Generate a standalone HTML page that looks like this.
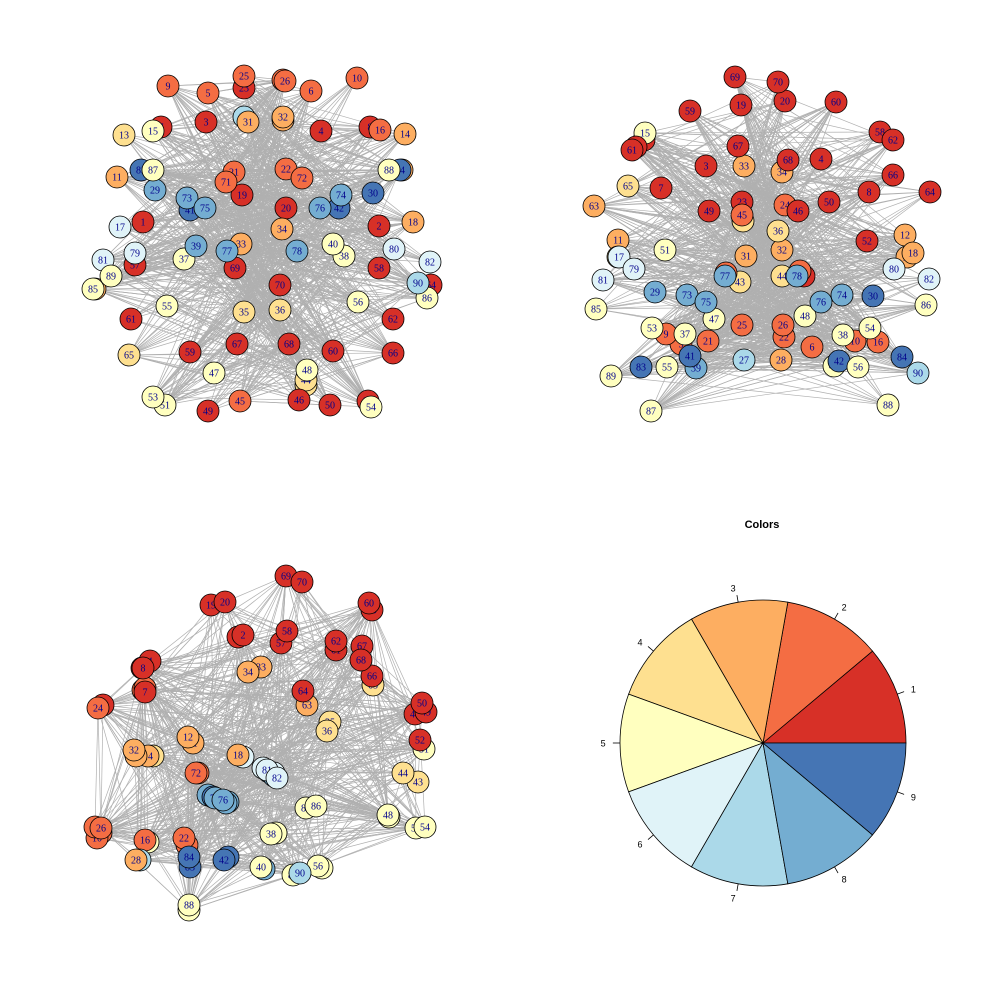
<!DOCTYPE html>
<html><head><meta charset="utf-8"><style>
html,body{margin:0;padding:0;background:#fff;}
svg{display:block;}
</style></head><body>
<svg id="chart" width="1000" height="1000" viewBox="0 0 1000 1000" xmlns="http://www.w3.org/2000/svg">
<rect width="1000" height="1000" fill="#fff"/>
<g id="g1"></g>
<g id="g2"></g>
<g id="g3"></g>
<g id="pie"></g>
<text x="762" y="528" text-anchor="middle" font-family="Liberation Sans, sans-serif" font-size="11" font-weight="bold">Colors</text>
</svg>
<script>
const palette = ["#D73027","#F46D43","#FDAE61","#FEE090","#FFFFBF","#E0F3F8","#ABD9E9","#74ADD1","#4575B4"];
const pieLabels = ["1","2","3","4","5","6","7","8","9"];
const pieValues = [1,1,1,1,1,1,1,1,1];
const nodeGroup = [0,0,0,0,1,1,0,0,1,1, 2,2,3,2,4,1,5,2,0,0, 1,1,0,1,1,1,6,2,7,8, 2,2,2,2,3,3,4,4,7,4, 8,8,3,3,1,0,4,4,0,0, 4,0,4,4,4,4,0,0,0,0, 0,0,2,0,3,0,0,0,0,0, 1,1,7,7,7,7,7,7,5,5, 5,5,8,8,4,4,4,4,4,6];
const pos1 = [[143,222],[379,226],[206,122],[321,131],[208,93],[311,91],[161,127],[370,127],[168,86],[357,78],[117,177],[402,170],[124,135],[405,134],[153,131],[380,130],[120,227],[413,222],[242,195],[286,208],[234,172],[286,169],[244,88],[283,80],[244,76],[285,81],[244,117],[283,120],[155,190],[373,193],[248,122],[283,117],[241,244],[282,229],[244,312],[280,310],[184,259],[344,256],[196,246],[333,244],[190,210],[339,208],[306,385],[306,380],[240,401],[299,400],[214,373],[307,370],[208,411],[330,405],[165,405],[368,401],[153,397],[371,407],[167,306],[358,302],[135,265],[379,268],[190,352],[333,351],[131,319],[393,319],[95,289],[431,285],[129,355],[393,353],[237,344],[289,344],[235,268],[280,285],[226,182],[302,178],[187,198],[341,195],[205,208],[320,208],[227,251],[297,251],[135,253],[394,249],[103,260],[430,262],[141,170],[400,170],[93,289],[427,298],[153,170],[389,170],[111,276],[418,283]];
const pos2 = [[644,140],[804,276],[706,166],[821,159],[681,344],[812,347],[661,188],[869,192],[666,334],[855,341],[618,240],[905,235],[618,257],[907,257],[645,133],[878,342],[619,257],[913,253],[741,105],[785,101],[708,341],[784,337],[742,202],[785,205],[742,325],[783,325],[744,360],[781,360],[655,292],[873,296],[746,256],[782,250],[744,166],[782,172],[743,221],[778,231],[685,334],[843,335],[696,368],[834,366],[690,356],[839,361],[740,282],[782,276],[742,215],[798,211],[714,319],[805,316],[709,211],[829,202],[665,250],[867,241],[652,328],[870,328],[667,367],[858,367],[636,147],[880,132],[690,111],[836,102],[632,150],[893,140],[594,206],[930,192],[628,186],[893,175],[738,146],[788,160],[735,77],[778,82],[726,273],[800,271],[687,295],[842,295],[706,302],[821,302],[725,276],[797,276],[634,269],[894,269],[603,280],[929,279],[641,367],[902,357],[596,309],[926,305],[651,411],[888,405],[611,376],[918,373]];
const pos3 = [[238,637],[243,635],[142,668],[150,661],[143,690],[145,688],[145,692],[143,668],[101,833],[97,838],[193,743],[188,737],[153,756],[148,756],[148,842],[145,840],[243,757],[238,755],[211,605],[225,602],[187,845],[184,838],[103,705],[98,708],[95,827],[101,828],[140,860],[136,860],[208,795],[213,797],[136,756],[134,750],[261,667],[248,672],[330,722],[327,731],[276,833],[271,834],[264,869],[261,867],[228,857],[224,860],[418,782],[403,773],[419,712],[415,714],[389,817],[388,815],[426,712],[422,703],[424,749],[420,740],[416,828],[425,827],[322,868],[318,866],[281,643],[287,631],[372,610],[369,603],[336,650],[336,641],[307,705],[303,691],[373,685],[372,676],[362,646],[361,660],[286,576],[302,582],[198,773],[196,773],[228,802],[215,798],[226,803],[223,800],[269,772],[274,776],[274,773],[263,768],[267,770],[277,778],[190,867],[189,857],[306,808],[316,806],[189,910],[189,905],[293,875],[300,873]];
const edgeSteps = [7,13,29,41,53,11,19,23,37,47];
const NS="http://www.w3.org/2000/svg";
function mk(tag,attrs,parent){const e=document.createElementNS(NS,tag);for(const k in attrs)e.setAttribute(k,attrs[k]);parent.appendChild(e);return e;}
function drawNet(gid,pos){
  const g=document.getElementById(gid);
  const eg=mk('g',{},g);
  
  
  const n=pos.length;
  for(let i=0;i<n;i++){for(const s of edgeSteps){const j=(i*3+s)%n;if(j===i)continue;
    const l=mk('line',{x1:pos[i][0],y1:pos[i][1],x2:pos[j][0],y2:pos[j][1],stroke:'#b0b0b0','stroke-width':0.7},eg);
    
    
  }}
  for(let i=0;i<n;i++){
    const ng=mk('g',{},g);
    
    
    mk('circle',{cx:pos[i][0],cy:pos[i][1],r:11,fill:palette[nodeGroup[i]],stroke:'#000','stroke-width':0.8},ng);
    const t=mk('text',{x:pos[i][0],y:pos[i][1]+3.5,'text-anchor':'middle','font-family':'Liberation Serif, serif','font-size':10,fill:'#00008B'},ng);
    t.textContent=String(i+1);
  }
}
drawNet('g1',pos1);drawNet('g2',pos2);drawNet('g3',pos3);
(function(){
  const g=document.getElementById('pie');
  const cx=763,cy=743,r=143;
  const tot=pieValues.reduce((a,b)=>a+b,0);
  let a0=0;
  for(let i=0;i<pieValues.length;i++){
    const a1=a0+pieValues[i]/tot*2*Math.PI;
    const x0=cx+r*Math.cos(a0),y0=cy-r*Math.sin(a0),x1=cx+r*Math.cos(a1),y1=cy-r*Math.sin(a1);
    const p=mk('path',{d:`M${cx},${cy} L${x0},${y0} A${r},${r} 0 ${a1-a0>Math.PI?1:0} 0 ${x1},${y1} Z`,fill:palette[i],stroke:'#000','stroke-width':0.8},g);
    
    
    const am=(a0+a1)/2;
    mk('line',{x1:cx+r*Math.cos(am),y1:cy-r*Math.sin(am),x2:cx+r*1.05*Math.cos(am),y2:cy-r*1.05*Math.sin(am),stroke:'#000','stroke-width':0.8},g);
    const lx=cx+r*1.1*Math.cos(am),ly=cy-r*1.1*Math.sin(am);
    const t=mk('text',{x:lx,y:ly+3.5,'text-anchor':Math.cos(am)>0.1?'start':(Math.cos(am)<-0.1?'end':'middle'),'font-family':'Liberation Sans, sans-serif','font-size':9},g);
    
    
    t.textContent=pieLabels[i];
    a0=a1;
  }
})();
</script>
</body></html>
